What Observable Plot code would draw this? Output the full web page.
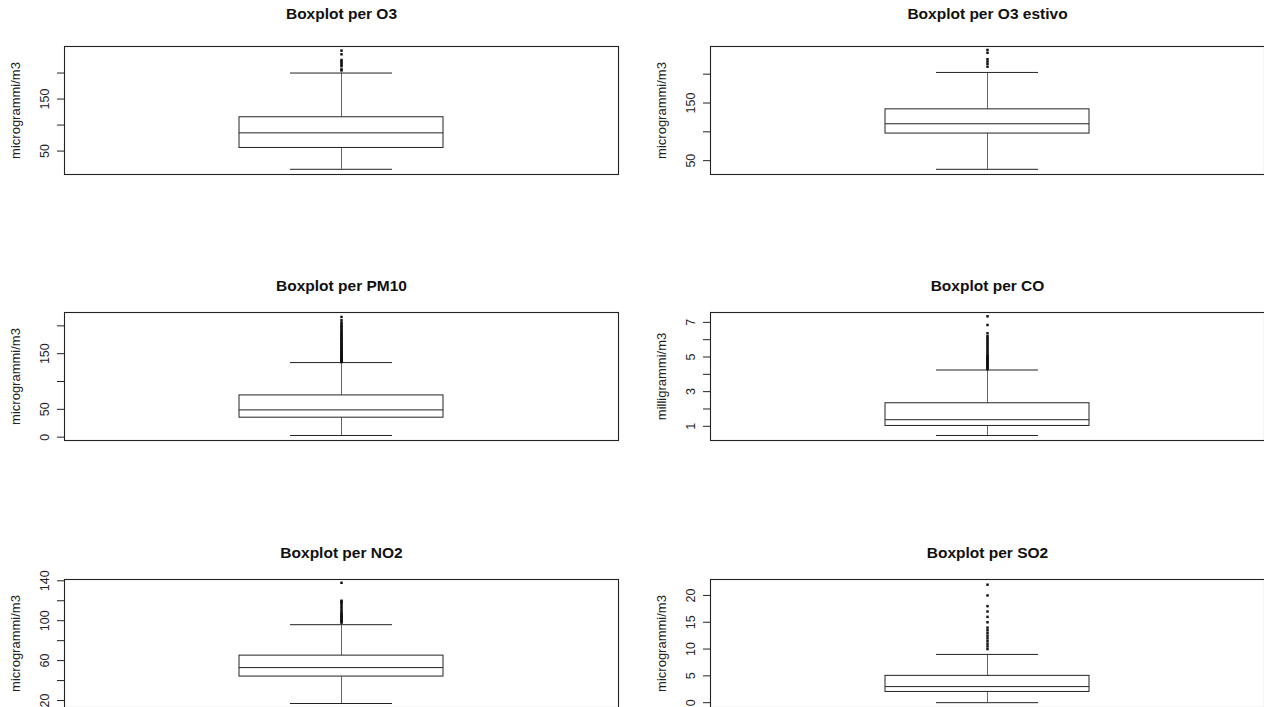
<!DOCTYPE html>
<html><head><meta charset="utf-8">
<script src="https://cdn.jsdelivr.net/npm/d3@7"></script>
<script src="https://cdn.jsdelivr.net/npm/@observablehq/plot@0.6"></script>
<style>
html,body{margin:0;padding:0;background:#fff;}
#chart{position:relative;width:1264px;height:707px;overflow:hidden;font-family:"Liberation Sans",Arial,Helvetica,sans-serif;}
.panel{position:absolute;width:630px;height:184px;}
.panel svg{max-width:none !important;}
</style></head><body><div id="chart"></div>
<script>
// ---- data ----
const pollutants = ["O3", "O3 estivo", "PM10", "CO", "NO2", "SO2"];
const titles = ["Boxplot per O3", "Boxplot per O3 estivo", "Boxplot per PM10", "Boxplot per CO", "Boxplot per NO2", "Boxplot per SO2"];
const units = ["microgrammi/m3", "microgrammi/m3", "microgrammi/m3", "milligrammi/m3", "microgrammi/m3", "microgrammi/m3"];
const whiskerLow  = [15, 35, 3, 0.47, 17, 0];
const quart1      = [56, 97, 35, 1.02, 44, 2];
const medians     = [85, 114, 49, 1.38, 53, 3];
const quart3      = [115, 139, 75, 2.33, 65, 5];
const whiskerHigh = [200, 203, 134, 4.25, 96, 9];
const outO3 = [205, 207, 213, 216, 219, 222, 225, 236, 243];
const outO3estivo = [213, 218, 222, 226, 237, 242];
const outPM10 = [135, 136, 137, 138, 139, 140, 141, 142, 143, 144, 145, 146, 148, 149, 150, 152, 153, 155, 156, 158, 160, 161, 163, 165, 167, 168, 170, 172, 174, 176, 178, 180, 182, 184, 186, 188, 190, 193, 195, 198, 200, 203, 206, 210, 216];
const outCO = [4.3, 4.35, 4.4, 4.45, 4.5, 4.55, 4.6, 4.65, 4.7, 4.75, 4.8, 4.85, 4.9, 4.95, 5.0, 5.05, 5.1, 5.2, 5.3, 5.4, 5.5, 5.6, 5.7, 5.8, 5.9, 6.0, 6.1, 6.2, 6.37, 6.85, 7.35];
const outNO2 = [98, 99, 100, 101, 102, 103, 104, 105, 106, 107, 108, 110, 112, 114, 116, 118, 119, 120, 138];
const outSO2 = [10, 10.5, 11, 11.5, 12, 12.5, 13, 13.5, 14, 15, 16, 17, 18, 20, 22];
const outliers = [outO3, outO3estivo, outPM10, outCO, outNO2, outSO2];
const yDomains = [[5, 251], [26, 248], [-6, 224], [0.18, 7.57], [13, 141.3], [-0.9, 22.97]];
const tickValues = [[50, 100, 150, 200], [50, 100, 150, 200], [0, 50, 100, 150, 200], [1, 2, 3, 4, 5, 6, 7], [20, 40, 60, 80, 100, 120, 140], [0, 5, 10, 15, 20]];
const tickLabeled = [[50, 150], [50, 150], [0, 50, 150], [1, 3, 5, 7], [20, 60, 100, 140], [0, 5, 10, 15, 20]];

// ---- layout ----
const panelLeft = [0, 646, 0, 646, 0, 646];
const panelTop = [0, 0, 266, 266, 533, 533];
const titleOffset = [-28, -28, -22, -22, -22, -22];

const chart = document.getElementById("chart");
const font = '"Liberation Sans", Arial, Helvetica, sans-serif';

pollutants.forEach((name, i) => {
  const row = [{name, lo: whiskerLow[i], q1: quart1[i], med: medians[i], q3: quart3[i], hi: whiskerHigh[i]}];
  const pts = outliers[i].map(v => ({name, v}));
  const plot = Plot.plot({
    width: 630, height: 184,
    marginLeft: 64, marginRight: 12, marginTop: 46, marginBottom: 10,
    style: {fontFamily: font, fontSize: "12.5px", background: "transparent", color: "#222", overflow: "visible", maxWidth: "none"},
    x: {type: "band", domain: [name], padding: 0.461, axis: null},
    y: {domain: yDomains[i], axis: null},
    marks: [
      Plot.frame({stroke: "#222", strokeWidth: 1.1}),
      Plot.axisY({ticks: tickValues[i], tickFormat: d => tickLabeled[i].includes(d) ? String(d) : "", tickRotate: -90, tickSize: 7, tickPadding: 9, label: null, stroke: "#222"}),
      Plot.text([units[i]], {text: d => d, frameAnchor: "left", textAnchor: "middle", rotate: -90, dx: -49, fontSize: 13, fill: "#222"}),
      Plot.text([titles[i]], {text: d => d, frameAnchor: "top", textAnchor: "middle", dy: titleOffset[i], lineAnchor: "bottom", fontWeight: "bold", fontSize: 15.5, fill: "#111"}),
      Plot.ruleX(row, {x: "name", y1: "q3", y2: "hi", insetTop: 5, stroke: "#666"}),
      Plot.ruleX(row, {x: "name", y1: "lo", y2: "q1", insetBottom: 5, stroke: "#666"}),
      Plot.tickY(row, {x: "name", y: "hi", insetLeft: 51, insetRight: 51, stroke: "#222"}),
      Plot.tickY(row, {x: "name", y: "lo", insetLeft: 51, insetRight: 51, stroke: "#222"}),
      Plot.barY(row, {x: "name", y1: "q1", y2: "q3", fill: "white", stroke: "#222"}),
      Plot.tickY(row, {x: "name", y: "med", stroke: "#222"}),
      Plot.dot(pts, {x: "name", y: "v", symbol: "square", r: 1.4, fill: "#111", stroke: "none"})
    ]
  });
  const div = document.createElement("div");
  div.className = "panel";
  div.style.left = panelLeft[i] + "px";
  div.style.top = panelTop[i] + "px";
  div.appendChild(plot);
  chart.appendChild(div);
});
</script>
</body></html>
